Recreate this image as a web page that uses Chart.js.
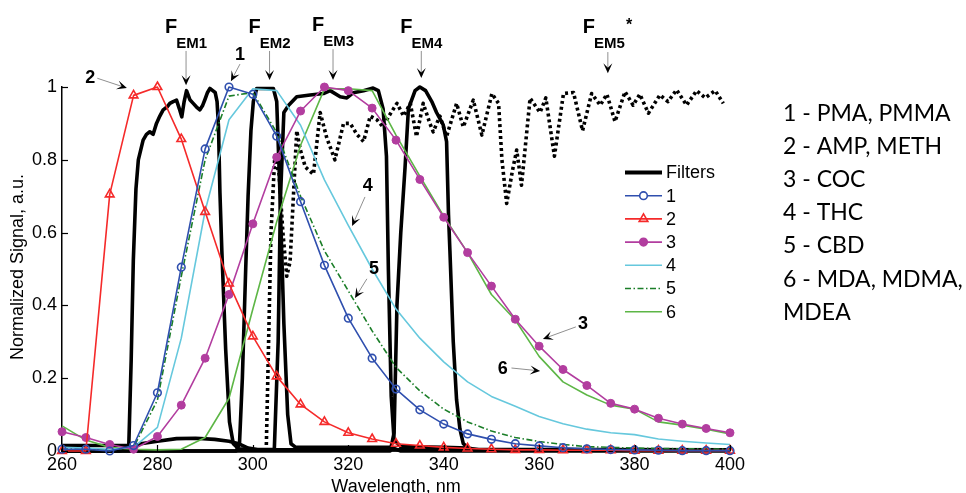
<!DOCTYPE html>
<html>
<head>
<meta charset="utf-8">
<script src="https://cdn.jsdelivr.net/npm/chart.js@4.4.1/dist/chart.umd.min.js"></script>
<style>
  html, body { margin: 0; padding: 0; background: #fff; }
  canvas { display: block; }
</style>
</head>
<body>
<canvas id="spectraChart" width="966" height="493"></canvas>
<script>
// emission spectra, sampled every 5 nm
const wavelengths = [260, 265, 270, 275, 280, 285, 290, 295, 300, 305, 310, 315, 320, 325, 330,
  335, 340, 345, 350, 355, 360, 365, 370, 375, 380, 385, 390, 395, 400];

const spectrum1 = [0.005, 0.005, 0.0, 0.015, 0.16, 0.505, 0.83, 1.0, 0.98, 0.865, 0.685, 0.51, 0.365, 0.255, 0.17,
  0.113, 0.074, 0.047, 0.032, 0.02, 0.014, 0.009, 0.006, 0.004, 0.003, 0.002, 0.001, 0.001, 0.001];
const spectrum2 = [0.0, 0.0, 0.705, 0.977, 1.0, 0.857, 0.657, 0.46, 0.315, 0.205, 0.128, 0.08, 0.05, 0.033, 0.02,
  0.015, 0.01, 0.007, 0.005, 0.003, 0.003, 0.002, 0.002, 0.002, 0.001, 0.001, 0.001, 0.001, 0.001];
const spectrum3 = [0.053, 0.037, 0.018, 0.005, 0.04, 0.126, 0.255, 0.43, 0.624, 0.807, 0.934, 1.0, 0.99, 0.942, 0.854,
  0.746, 0.642, 0.545, 0.453, 0.362, 0.288, 0.224, 0.18, 0.131, 0.115, 0.09, 0.074, 0.062, 0.05];
const spectrum4 = [0.01, 0.008, 0.005, 0.01, 0.065, 0.31, 0.66, 0.91, 0.995, 0.99, 0.895, 0.745, 0.62, 0.5, 0.39,
  0.31, 0.245, 0.19, 0.15, 0.123, 0.095, 0.075, 0.06, 0.05, 0.045, 0.033, 0.027, 0.022, 0.018];
const spectrum5 = [0.008, 0.005, 0.003, 0.01, 0.14, 0.48, 0.8, 0.975, 0.985, 0.875, 0.7, 0.55, 0.44, 0.33, 0.23,
  0.165, 0.115, 0.08, 0.055, 0.037, 0.026, 0.018, 0.012, 0.01, 0.008, 0.007, 0.006, 0.006, 0.005];
const spectrum6 = [0.069, 0.03, 0.01, 0.005, 0.003, 0.005, 0.037, 0.145, 0.39, 0.63, 0.84, 0.995, 0.995, 0.99, 0.868,
  0.755, 0.645, 0.545, 0.43, 0.36, 0.26, 0.19, 0.154, 0.126, 0.115, 0.08, 0.071, 0.06, 0.047];

// emission filter transmission curves, [wavelength, transmission]
const filterEM1 = [[260, 0.015], [270, 0.015], [274, 0.016], [274.5, 0.25], [274.95, 0.525], [275.5, 0.72], [276, 0.8],
  [277, 0.854], [277.7, 0.87], [278.4, 0.877], [279.1, 0.87], [279.8, 0.9], [280.5, 0.92], [281.2, 0.937], [282, 0.945],
  [282.6, 0.955], [283.3, 0.96], [284, 0.964], [284.6, 0.94], [285.1, 0.918], [285.6, 0.96], [286.1, 0.99], [286.8, 0.965],
  [287.5, 0.955], [288.2, 0.945], [288.9, 0.937], [289.5, 0.95], [290, 0.967], [290.5, 0.985], [291, 0.996], [291.6, 0.99],
  [292.1, 0.985], [292.5, 0.96], [292.8, 0.89], [293.1, 0.71], [293.5, 0.55], [294.3, 0.28], [295.1, 0.08], [295.9, 0.02],
  [297, 0.006], [300, 0.003], [400, 0.003]];
const filterEM2 = [[260, 0], [296.5, 0], [297.2, 0.02], [297.8, 0.2], [298.5, 0.5], [299, 0.7], [299.6, 0.88], [300.1, 0.96],
  [300.8, 0.996], [304.3, 0.996], [305, 0.96], [305.7, 0.7], [306.5, 0.35], [307.3, 0.1], [308, 0.02], [309, 0.01],
  [329, 0.01], [331, 0], [400, 0]];
const filterEM3 = [[260, 0], [272, 0], [275, 0.01], [276.5, 0.02], [280, 0.027], [284, 0.034], [288, 0.035], [292, 0.032],
  [295, 0.027], [297, 0.02], [299, 0.008], [301, 0.004], [304.5, 0.005], [305.3, 0.3], [305.8, 0.7], [306.5, 0.93],
  [307.5, 0.95], [309.2, 0.973], [312, 0.978], [314.8, 0.982], [316.2, 0.99], [318.3, 0.973], [319.7, 0.97], [321, 0.984],
  [323.2, 0.99], [325.2, 0.997], [326.3, 0.99], [327.3, 0.94], [328, 0.81], [328.4, 0.5], [329, 0.15], [329.6, 0.03],
  [331, 0.012], [340, 0.01], [345, 0.008], [348, 0.002], [400, 0.002]];
const filterEM4 = [[260, 0], [328.8, 0], [329.6, 0.05], [330.2, 0.4], [331, 0.6], [331.9, 0.78], [332.6, 0.94], [334, 0.99],
  [335, 1.0], [336.2, 0.99], [337.5, 0.96], [338.5, 0.93], [339.9, 0.896], [340.6, 0.85], [341, 0.65], [341.3, 0.55],
  [342, 0.3], [342.7, 0.14], [343.4, 0.06], [344.1, 0.02], [345.5, 0.005], [400, 0.003]];
const filterEM5 = [[302.8, 0], [303.3, 0.3], [303.8, 0.6], [304.6, 0.81], [305.5, 0.76], [306.3, 0.6], [307.1, 0.48],
  [307.8, 0.52], [308.5, 0.7], [309.2, 0.88], [309.9, 0.83], [311, 0.78], [312.7, 0.76], [314.1, 0.93], [315.5, 0.86], [317.2, 0.8],
  [319, 0.9], [320.4, 0.9], [321.8, 0.87], [323.2, 0.85], [324.6, 0.92], [326, 0.91], [327.3, 0.89], [328.5, 0.92],
  [330.2, 0.955], [331.6, 0.92], [333, 0.955], [334.3, 0.864], [335.7, 0.955], [337.1, 0.9], [337.8, 0.877], [339.2, 0.92],
  [340.6, 0.864], [342.7, 0.955], [344.1, 0.89], [346.2, 0.964], [348, 0.868], [350.1, 0.982], [351.5, 0.955], [352.2, 0.8],
  [353.2, 0.68], [354.4, 0.77], [355.3, 0.827], [356.3, 0.73], [358.1, 0.969], [360.2, 0.93], [361.4, 0.97], [363.2, 0.81],
  [365.1, 0.982], [367.2, 0.985], [369.1, 0.88], [371, 0.982], [372.8, 0.95], [374.2, 0.98], [375.9, 0.905], [378, 0.987],
  [379.7, 0.95], [381.1, 0.98], [382.9, 0.928], [385.3, 0.978], [387, 0.96], [388.8, 0.992], [390.9, 0.95], [393, 0.99],
  [394.8, 0.97], [396.9, 0.99], [398.6, 0.955]];

const seriesLabels = ['1', '2', '3', '4', '5', '6'];
const compoundNotes = ['1 - PMA, PMMA', '2 - AMP, METH', '3 - COC', '4 - THC', '5 - CBD', '6 - MDA, MDMA,', 'MDEA'];

const AXIS_FONT = '"Liberation Sans", Arial, sans-serif';

const toXY = vals => vals.map((v, i) => ({ x: wavelengths[i], y: v }));
const pairs = arr => arr.map(p => ({ x: p[0], y: p[1] }));

const datasets = [
  { label: '1', data: toXY(spectrum1), borderColor: '#2f4fae', borderWidth: 1.6, pointStyle: 'circle', pointRadius: 3.8,
    pointBackgroundColor: 'rgba(0,0,0,0)', pointBorderColor: '#2f4fae', pointBorderWidth: 1.6 },
  { label: '2', data: toXY(spectrum2), borderColor: '#f52a2a', borderWidth: 1.6, pointStyle: 'triangle', pointRadius: 5,
    pointBackgroundColor: 'rgba(0,0,0,0)', pointBorderColor: '#f52a2a', pointBorderWidth: 1.6 },
  { label: '3', data: toXY(spectrum3), borderColor: '#b23d9f', borderWidth: 1.6, pointStyle: 'circle', pointRadius: 4,
    pointBackgroundColor: '#b23d9f', pointBorderColor: '#b23d9f', pointBorderWidth: 1 },
  { label: '4', data: toXY(spectrum4), borderColor: '#66c8dd', borderWidth: 1.6, pointRadius: 0 },
  { label: '5', data: toXY(spectrum5), borderColor: '#1b7e28', borderWidth: 1.6, pointRadius: 0, borderDash: [6, 2.5, 1.5, 2.5] },
  { label: '6', data: toXY(spectrum6), borderColor: '#5db646', borderWidth: 1.6, pointRadius: 0 },
  { label: 'Filters', data: pairs(filterEM1), borderColor: '#000', borderWidth: 3.6, pointRadius: 0 },
  { label: 'Filters', data: pairs(filterEM2), borderColor: '#000', borderWidth: 3.6, pointRadius: 0 },
  { label: 'Filters', data: pairs(filterEM3), borderColor: '#000', borderWidth: 3.6, pointRadius: 0 },
  { label: 'Filters', data: pairs(filterEM4), borderColor: '#000', borderWidth: 3.6, pointRadius: 0 },
  { label: 'Filters', data: pairs(filterEM5), borderColor: '#000', borderWidth: 3.6, pointRadius: 0,
    borderDash: [3, 3], borderCapStyle: 'butt' }
];
datasets.forEach(d => { d.tension = 0; d.clip = 10; d.borderJoinStyle = 'round'; });

// filter labels above the plot: arrow x, arrow top/tip (data units), pixel offsets of the text
const filterTags = [
  { sub: 'EM1', x: 286.0, top: 1.099, tip: 1.005, dy: 0 },
  { sub: 'EM2', x: 303.5, top: 1.099, tip: 1.019, dy: 0 },
  { sub: 'EM3', x: 316.8, top: 1.104, tip: 1.019, dy: -2 },
  { sub: 'EM4', x: 335.3, top: 1.099, tip: 1.025, dy: 0 },
  { sub: 'EM5', x: 374.4, top: 1.096, tip: 1.038, dy: 0, star: true, dx: -4 }
];
// numbered curve callouts: text position, arrow start, arrow tip
const callouts = [
  { t: '2', tx: 265.9, ty: 1.027, x1: 267.4, y1: 1.024, x2: 273.6, y2: 0.997 },
  { t: '1', tx: 297.3, ty: 1.09, x1: 297.3, y1: 1.063, x2: 295.4, y2: 1.016 },
  { t: '4', tx: 324.1, ty: 0.731, x1: 323.5, y1: 0.698, x2: 320.8, y2: 0.618 },
  { t: '5', tx: 325.4, ty: 0.503, x1: 323.9, y1: 0.473, x2: 321.4, y2: 0.42 },
  { t: '3', tx: 369.2, ty: 0.352, x1: 367.7, y1: 0.341, x2: 360.8, y2: 0.308 },
  { t: '6', tx: 352.4, ty: 0.228, x1: 354.2, y1: 0.228, x2: 360.2, y2: 0.22 }
];

function drawArrow(ctx, x1, y1, x2, y2) {
  const a = Math.atan2(y2 - y1, x2 - x1);
  const c = Math.cos(a), s = Math.sin(a);
  ctx.strokeStyle = '#909090';
  ctx.lineWidth = 1;
  ctx.setLineDash([]);
  ctx.beginPath();
  ctx.moveTo(x1, y1);
  ctx.lineTo(x2 - 5 * c, y2 - 5 * s);
  ctx.stroke();
  const L = 10, W = 4.5, back = 5.5;
  ctx.fillStyle = '#000';
  ctx.beginPath();
  ctx.moveTo(x2, y2);
  ctx.lineTo(x2 - L * c + W * s, y2 - L * s - W * c);
  ctx.lineTo(x2 - back * c, y2 - back * s);
  ctx.lineTo(x2 - L * c - W * s, y2 - L * s + W * c);
  ctx.closePath();
  ctx.fill();
}

const decorations = {
  id: 'decorations',
  afterDraw(chart) {
    const ctx = chart.ctx;
    const xs = chart.scales.x, ys = chart.scales.y;
    const area = chart.chartArea;
    ctx.save();

    // inward tick marks
    ctx.strokeStyle = '#000';
    ctx.lineWidth = 1.2;
    ys.ticks.forEach(t => {
      const y = Math.round(ys.getPixelForValue(t.value)) + 0.5;
      ctx.beginPath(); ctx.moveTo(area.left, y); ctx.lineTo(area.left + 6, y); ctx.stroke();
    });
    xs.ticks.forEach(t => {
      const x = Math.round(xs.getPixelForValue(t.value)) + 0.5;
      ctx.beginPath(); ctx.moveTo(x, area.bottom); ctx.lineTo(x, area.bottom - 6); ctx.stroke();
    });

    // axis titles
    ctx.fillStyle = '#000';
    ctx.font = '18px ' + AXIS_FONT;
    ctx.textAlign = 'center';
    ctx.textBaseline = 'alphabetic';
    ctx.fillText('Wavelength, nm', (area.left + area.right) / 2, 492);
    ctx.save();
    ctx.translate(23, (area.top + area.bottom) / 2 - 2);
    ctx.rotate(-Math.PI / 2);
    ctx.fillText('Normalized Signal, a.u.', 0, 0);
    ctx.restore();

    // legend
    const lx0 = 625, lx1 = 662, ly0 = 172.5, step = 23.2;
    const order = [6, 0, 1, 2, 3, 4, 5];
    order.forEach((di, row) => {
      const ds = chart.data.datasets[di];
      const y = ly0 + row * step;
      ctx.strokeStyle = ds.borderColor;
      ctx.lineWidth = di === 6 ? 4 : 1.6;
      ctx.setLineDash(ds.borderDash && di !== 6 ? ds.borderDash : []);
      ctx.beginPath(); ctx.moveTo(lx0, y); ctx.lineTo(lx1, y); ctx.stroke();
      ctx.setLineDash([]);
      const mx = (lx0 + lx1) / 2;
      if (ds.pointRadius > 0) {
        ctx.lineWidth = 1.6;
        if (ds.pointStyle === 'triangle') {
          const r = 5;
          ctx.beginPath();
          ctx.moveTo(mx, y - r);
          ctx.lineTo(mx + r * 0.866, y + r * 0.5);
          ctx.lineTo(mx - r * 0.866, y + r * 0.5);
          ctx.closePath();
          ctx.stroke();
        } else {
          ctx.beginPath();
          ctx.arc(mx, y, 3.8, 0, Math.PI * 2);
          if (ds.pointBackgroundColor !== 'rgba(0,0,0,0)') { ctx.fillStyle = ds.pointBackgroundColor; ctx.fill(); }
          else { ctx.fillStyle = '#fff'; ctx.fill(); }
          ctx.stroke();
        }
      }
      ctx.fillStyle = '#000';
      ctx.font = '18px ' + AXIS_FONT;
      ctx.textAlign = 'left';
      ctx.textBaseline = 'middle';
      ctx.fillText(di === 6 ? 'Filters' : seriesLabels[di], 666, y + 1);
    });

    // filter tags with arrows
    filterTags.forEach(f => {
      const ax = xs.getPixelForValue(f.x);
      drawArrow(ctx, ax, ys.getPixelForValue(f.top), ax, ys.getPixelForValue(f.tip));
      const left = ax - 21 + (f.dx || 0);
      ctx.fillStyle = '#000';
      ctx.textAlign = 'left';
      ctx.textBaseline = 'alphabetic';
      ctx.font = 'bold 20px ' + AXIS_FONT;
      ctx.fillText('F', left, 33 + f.dy);
      const fw = ctx.measureText('F').width;
      ctx.font = 'bold 15px ' + AXIS_FONT;
      ctx.fillText(f.sub, left + fw - 1, 48 + f.dy);
      if (f.star) {
        const sw = ctx.measureText(f.sub).width;
        ctx.font = 'bold 16px ' + AXIS_FONT;
        ctx.fillText('*', left + fw + sw, 30);
      }
    });

    // numbered callouts
    callouts.forEach(c => {
      drawArrow(ctx, xs.getPixelForValue(c.x1), ys.getPixelForValue(c.y1),
        xs.getPixelForValue(c.x2), ys.getPixelForValue(c.y2));
      ctx.fillStyle = '#000';
      ctx.font = 'bold 18px ' + AXIS_FONT;
      ctx.textAlign = 'center';
      ctx.textBaseline = 'middle';
      ctx.fillText(c.t, xs.getPixelForValue(c.tx), ys.getPixelForValue(c.ty) + 1);
    });

    // compound key on the right
    ctx.font = '23px Lato, "Open Sans", sans-serif';
    ctx.textAlign = 'left';
    ctx.textBaseline = 'alphabetic';
    compoundNotes.forEach((line, i) => {
      ctx.fillText(line, 783, 121 + i * 33.1);
    });
    ctx.restore();
  }
};

new Chart(document.getElementById('spectraChart').getContext('2d'), {
  type: 'line',
  data: { datasets },
  options: {
    responsive: false,
    animation: false,
    devicePixelRatio: 1,
    layout: { padding: { top: 87, right: 236, left: 0, bottom: 0 } },
    plugins: { legend: { display: false }, tooltip: { enabled: false } },
    scales: {
      x: {
        type: 'linear', min: 260, max: 400,
        ticks: { stepSize: 20, color: '#000', padding: 3, font: { family: AXIS_FONT, size: 18 } },
        grid: { display: false, drawTicks: false },
        border: { display: true, color: '#000', width: 1.5 },
        afterFit(scale) { scale.height = 42; }
      },
      y: {
        min: 0, max: 1,
        ticks: {
          stepSize: 0.2, color: '#000', padding: 5, font: { family: AXIS_FONT, size: 18 },
          callback: v => String(Math.round(v * 10) / 10)
        },
        grid: { display: false, drawTicks: false },
        border: { display: true, color: '#000', width: 1.5 },
        afterFit(scale) { scale.width = 62; }
      }
    }
  },
  plugins: [decorations]
});
</script>
</body>
</html>
